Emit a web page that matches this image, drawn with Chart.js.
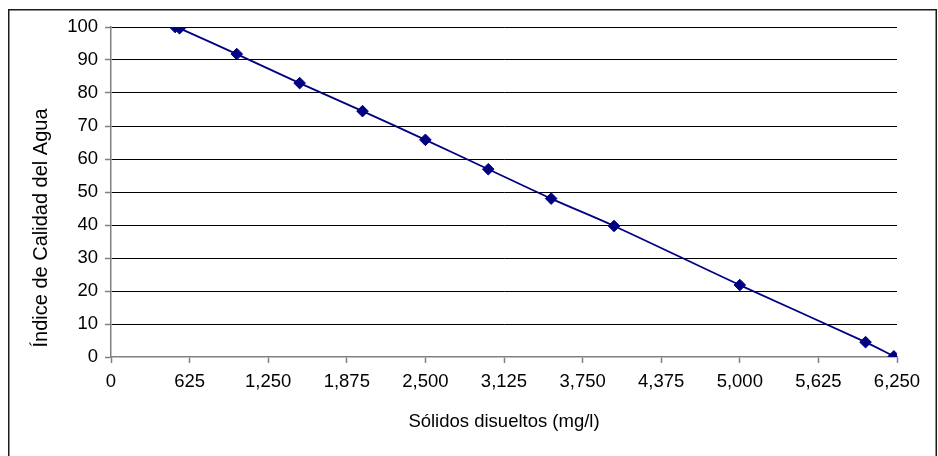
<!DOCTYPE html>
<html>
<head>
<meta charset="utf-8">
<script src="https://cdn.jsdelivr.net/npm/chart.js@4/dist/chart.umd.min.js"></script>
<style>
  html, body { margin: 0; padding: 0; background: #fff; }
  #wrap { position: relative; width: 938px; height: 456px; }
</style>
</head>
<body>
<div id="wrap"><canvas id="c"></canvas></div>
<script>
// Dissolved solids (mg/l) and the corresponding water quality index
const solidos = [510, 545, 1000, 1500, 2000, 2500, 3000, 3500, 4000, 5000, 6000, 6225];
const indice  = [100, 99.6, 91.8, 83.0, 74.5, 65.8, 56.9, 48.0, 39.7, 21.8, 4.5, 0.2];

const xTicks = [0, 625, 1250, 1875, 2500, 3125, 3750, 4375, 5000, 5625, 6250];
const yTicks = [0, 10, 20, 30, 40, 50, 60, 70, 80, 90, 100];

const xTitle = 'Sólidos disueltos (mg/l)';
const yTitle = 'Índice de Calidad del Agua';

const FONT = "'Liberation Sans', Arial, sans-serif";
const SIZE = 18.5;

const points = solidos.map((x, i) => ({ x, y: indice[i] }));

// White background, outer frame and the two axis titles
const frame = {
  id: 'frame',
  beforeDraw(chart) {
    const ctx = chart.ctx;
    ctx.save();
    ctx.fillStyle = '#ffffff';
    ctx.fillRect(0, 0, chart.width, chart.height);
    ctx.restore();
  },
  afterDraw(chart) {
    const ctx = chart.ctx;
    const area = chart.chartArea;
    ctx.save();
    ctx.strokeStyle = '#1a1a1a';
    ctx.lineWidth = 1.5;
    ctx.strokeRect(8.75, 9.75, 927.5, 460);

    ctx.fillStyle = '#000';
    ctx.textAlign = 'center';
    ctx.textBaseline = 'middle';
    ctx.font = SIZE + 'px ' + FONT;
    ctx.fillText(xTitle, (area.left + area.right) / 2, 422);

    ctx.translate(41, 228);
    ctx.rotate(-Math.PI / 2);
    ctx.font = '20px ' + FONT;
    ctx.fillText(yTitle, 0, 0);
    ctx.restore();
  }
};

new Chart(document.getElementById('c'), {
  type: 'scatter',
  data: {
    datasets: [{
      data: points,
      showLine: true,
      borderColor: '#000080',
      backgroundColor: '#000080',
      borderWidth: 1.8,
      tension: 0.33,
      pointStyle: 'rectRot',
      pointRadius: 5.8,
      pointHoverRadius: 5.8,
      pointBorderWidth: 1,
      pointBorderColor: '#000080',
      pointBackgroundColor: '#000080'
    }]
  },
  options: {
    responsive: true,
    maintainAspectRatio: false,
    animation: false,
    events: [],
    layout: { padding: { top: 27, right: 41, left: 0, bottom: 0 } },
    plugins: {
      legend: { display: false },
      tooltip: { enabled: false }
    },
    scales: {
      x: {
        type: 'linear',
        min: 0,
        max: 6250,
        afterFit(scale) { scale.height = 99; },
        afterBuildTicks(scale) { scale.ticks = xTicks.map(v => ({ value: v })); },
        ticks: {
          color: '#000',
          font: { family: FONT, size: SIZE },
          padding: 8,
          maxRotation: 0,
          autoSkip: false,
          callback: v => v.toLocaleString('en-US')
        },
        grid: {
          drawOnChartArea: false,
          drawTicks: true,
          tickLength: 6,
          tickColor: '#808080',
          tickWidth: 1.5
        },
        border: { color: '#808080', width: 1.5 },
        title: { display: false }
      },
      y: {
        type: 'linear',
        min: 0,
        max: 100,
        afterFit(scale) { scale.width = 111; },
        afterBuildTicks(scale) { scale.ticks = yTicks.map(v => ({ value: v })); },
        ticks: {
          color: '#000',
          font: { family: FONT, size: SIZE },
          padding: 7,
          autoSkip: false
        },
        grid: {
          color: ctx => ctx.tick && ctx.tick.value === 0 ? 'rgba(0,0,0,0)' : '#000',
          lineWidth: 1,
          drawTicks: true,
          tickLength: 6,
          tickColor: '#808080',
          tickWidth: 1.5
        },
        border: { color: '#808080', width: 1.5 },
        title: { display: false }
      }
    }
  },
  plugins: [frame]
});
</script>
</body>
</html>
